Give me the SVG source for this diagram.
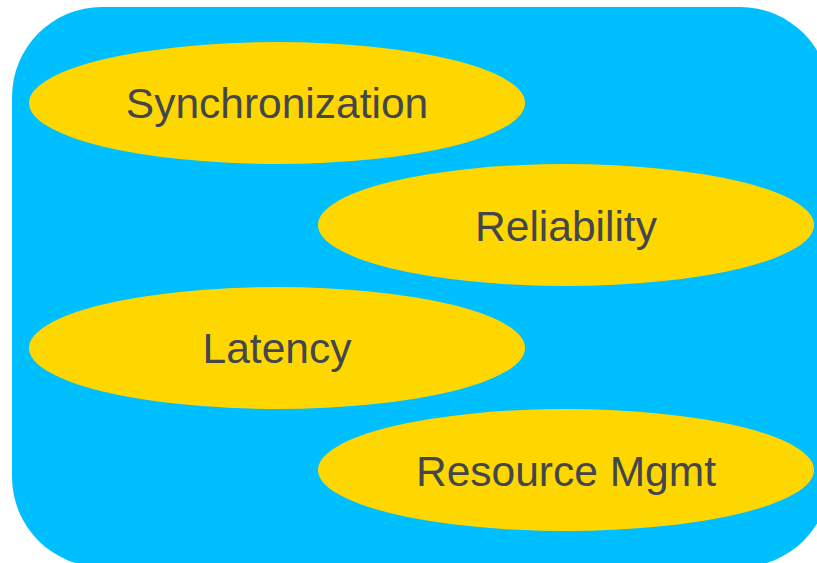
<svg xmlns="http://www.w3.org/2000/svg" width="817" height="563" viewBox="0 0 817 563">
<style>
.bg{fill:#00BFFF}
.n{fill:#FFD700}
.t{font-family:"Liberation Sans",Arial,sans-serif;font-size:42.5px;fill:#43474d;text-anchor:middle}
</style>
<rect class="bg" x="12" y="7" width="818" height="560" rx="90" ry="90"/>
<g id="connectors"></g>
<g id="sync"><ellipse class="n" cx="277" cy="103" rx="248" ry="61"/><text class="t" x="277" y="118">Synchronization</text></g>
<g id="reliability"><ellipse class="n" cx="566" cy="225" rx="248" ry="61"/><text class="t" x="566" y="241">Reliability</text></g>
<g id="latency"><ellipse class="n" cx="277" cy="348" rx="248" ry="61"/><text class="t" x="277" y="363">Latency</text></g>
<g id="resource"><ellipse class="n" cx="566" cy="470" rx="248" ry="61"/><text class="t" x="566" y="486">Resource Mgmt</text></g>
</svg>
